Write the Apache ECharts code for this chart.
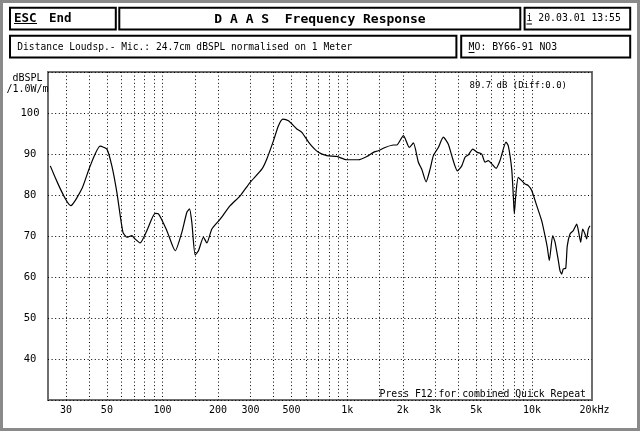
<!DOCTYPE html>
<html>
<head>
<meta charset="utf-8">
<script src="https://cdn.jsdelivr.net/npm/echarts@6/dist/echarts.min.js"></script>
<style>
html,body{margin:0;padding:0;background:#fff;}
#c{width:640px;height:431px;}
</style>
</head>
<body>
<div id="c"></div>
<script>
// ---- data ----
const freqHz = [24.7,31.9,36.6,40.6,46.0,50.0,53.2,56.6,61.1,64.2,68.3,70.6,75.7,82.3,91.3,95.1,105.6,117.2,127.3,135.5,140.0,144.2,150.3,156.6,166.7,173.9,185.1,205.2,232.5,263.3,298.2,345.1,367.2,398.7,424.4,448.3,480.6,533.8,567.9,629.8,698.6,775.6,878.5,995,1150,1277,1386,1475,1604,1778,1855,2015,2171,2282,2428,2533,2673,2810,2928,3116,3316,3528,3681,3948,4171,4345,4528,4784,5064,5350,5575,5810,6061,6393,6720,7240,7451,7774,7931,8030,8204,8442,8808,9178,9562,9975,10620,11300,11770,12120,12420,12960,13340,13900,14200,14500,14790,15240,15540,16080,16750,17480,17980,18370,18830,19380,19790,20200,20630];
const splDb = [87.1,77.4,81.5,87.1,91.9,91.2,87.1,80.7,70.9,69.7,70.1,69.4,68.3,71.3,75.5,75.4,71.3,66.4,70.9,75.8,76.6,73.3,65.4,66.4,69.7,68.3,71.7,74.1,77.4,79.8,83.1,86.3,88.8,93.2,96.9,98.5,98.1,96.1,95.3,92.4,90.4,89.6,89.4,88.6,88.6,89.4,90.4,90.8,91.6,92.2,92.2,94.5,91.6,92.7,88.0,86.3,83.2,86.3,89.6,91.6,94.1,92.4,89.6,85.9,87.1,89.2,89.8,91.2,90.4,90.0,88.0,88.4,87.6,86.5,88.4,92.9,92.0,86.3,79.8,75.4,80.7,84.3,83.5,82.7,82.3,81.1,77.4,73.7,70.1,67.2,64.0,70.1,68.5,64.0,61.5,60.7,62.0,62.1,67.6,70.5,71.3,72.9,70.5,68.5,71.7,70.5,69.3,71.7,72.5];
const gridFreqs = [30,40,50,60,70,80,90,100,150,200,300,400,500,600,700,800,900,1000,1500,2000,3000,4000,5000,6000,7000,8000,9000,10000];
const xLabelValues = [30,50,100,200,300,500,1000,2000,3000,5000,10000,20000];
const xLabelTexts = ['30','50','100','200','300','500','1k','2k','3k','5k','10k','20kHz'];
const yMin = 30, yMax = 110, yStep = 10;
const yLabelValues = [40,50,60,70,80,90,100];

const mono = '"DejaVu Sans Mono", "Liberation Mono", monospace';
const pts = freqHz.map((f,i)=>[f, splDb[i]]);

const chart = echarts.init(document.getElementById('c'), null, {renderer:'canvas'});

function box(x,y,w,h){
  return {type:'rect', shape:{x:x,y:y,width:w,height:h}, style:{fill:null, stroke:'#000', lineWidth:2}, silent:true};
}
function txt(x,y,t,size,bold,align){
  return {type:'text', x:x, y:y, style:{text:t, fill:'#000', font:(bold?'bold ':'')+size+'px '+mono, textAlign:align||'left', textVerticalAlign:'middle'}, silent:true};
}
function uline(x1,x2,y){
  return {type:'line', shape:{x1:x1,y1:y,x2:x2,y2:y}, style:{stroke:'#000', lineWidth:1}, silent:true};
}

const option = {
  backgroundColor:'#fff',
  animation:false,
  grid:{left:48, right:48, top:72, bottom:31, show:true, borderColor:'#6e6e6e', borderWidth:2, backgroundColor:'transparent', outerBoundsMode:'none', containLabel:false},
  xAxis:{
    type:'log', logBase:10, min:24, max:21150,
    axisLine:{show:false},
    axisTick:{show:false, customValues:gridFreqs},
    splitLine:{show:true, lineStyle:{color:'#000', width:1, type:[1,2.6]}},
    minorSplitLine:{show:false},
    axisLabel:{
      customValues:xLabelValues,
      margin:5,
      color:'#000',
      fontFamily:mono, fontSize:10,
      formatter:function(v){
        const i = xLabelValues.findIndex(x=>Math.abs(x-v)/x<1e-6);
        if(i<0) return '';
        const t = xLabelTexts[i];
        return t.indexOf('Hz')>=0 ? '{h|'+t+'}' : t;
      },
      rich:{h:{fontFamily:mono, fontSize:10, color:'#000', padding:[0,0,0,14]}}
    }
  },
  yAxis:{
    type:'value', min:yMin, max:yMax, interval:yStep,
    axisLine:{show:false}, axisTick:{show:false},
    splitLine:{show:true, lineStyle:{color:'#000', width:1, type:[1,2.6]}},
    axisLabel:{
      margin:18, align:'center', color:'#000', fontFamily:mono, fontSize:10.5,
      formatter:function(v){ return yLabelValues.indexOf(v)>=0 ? String(v) : ''; }
    }
  },
  series:[{
    type:'line', data:pts, showSymbol:false, smooth:0.2,
    lineStyle:{color:'#000', width:1.2}, silent:true, z:5
  }],
  graphic:[
    {type:'rect', shape:{x:1.5,y:1.5,width:637,height:428}, style:{fill:null, stroke:'#8a8a8a', lineWidth:3}, silent:true},
    box(10,7.7,105.8,21.8),
    box(119.3,7.7,401,21.8),
    box(524.6,7.7,105.6,21.8),
    box(10,35.8,446.4,21.7),
    box(461.2,35.8,169,21.7),
    txt(14,18.5,'ESC',12.5,true),
    uline(14,37,23.5),
    txt(49,18.5,'End',12.5,true),
    txt(320,19.5,'D A A S  Frequency Response',13,true,'center'),
    txt(526.5,18.5,'i 20.03.01 13:55',9.8,false),
    uline(526.5,532,24),
    txt(17.3,47,'Distance Loudsp.- Mic.: 24.7cm dBSPL normalised on 1 Meter',9.6,false),
    txt(468.6,47,'MO: BY66-91 NO3',9.8,false),
    uline(468.6,474.5,52.5),
    txt(27.5,78,'dBSPL',10,false,'center'),
    txt(27.5,89,'/1.0W/m',10,false,'center'),
    txt(567,86,'89.7 dB (Diff:0.0)',9,false,'right'),
    txt(586,394,'Press F12 for combined Quick Repeat',9.8,false,'right')
  ]
};
chart.setOption(option);
</script>
</body>
</html>
